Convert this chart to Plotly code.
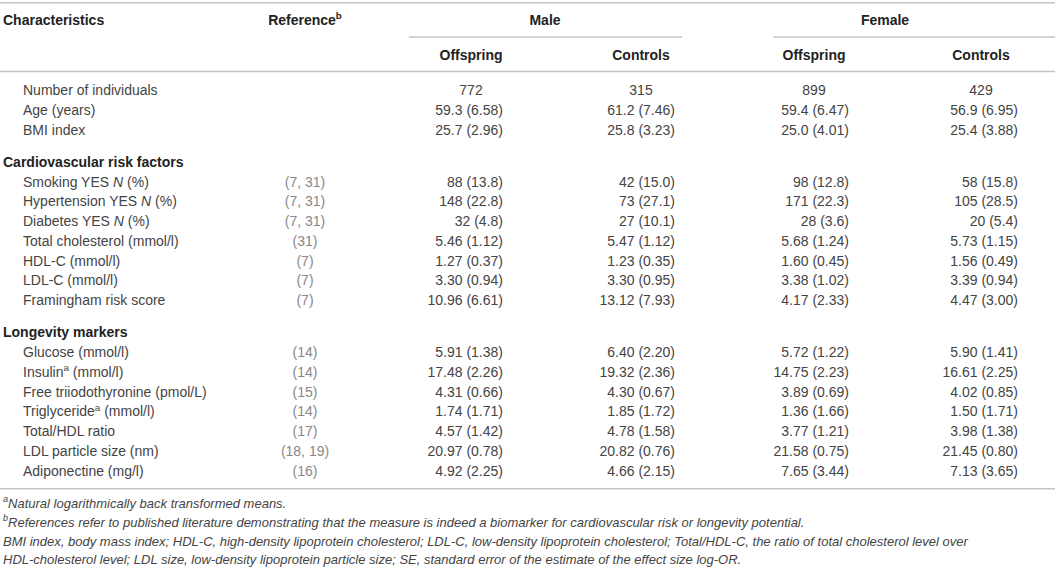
import plotly.graph_objects as go

# table data
row_labels = [
    "Number of individuals", "Age (years)", "BMI index",
    "Smoking YES <i>N</i> (%)", "Hypertension YES <i>N</i> (%)", "Diabetes YES <i>N</i> (%)",
    "Total cholesterol (mmol/l)", "HDL-C (mmol/l)", "LDL-C (mmol/l)", "Framingham risk score",
    "Glucose (mmol/l)", "Insulin<sup>a</sup> (mmol/l)", "Free triiodothyronine (pmol/L)",
    "Triglyceride<sup>a</sup> (mmol/l)", "Total/HDL ratio", "LDL particle size (nm)",
    "Adiponectine (mg/l)",
]
row_group = [0, 0, 0, 1, 1, 1, 1, 1, 1, 1, 2, 2, 2, 2, 2, 2, 2]
group_titles = ["", "Cardiovascular risk factors", "Longevity markers"]
references = [
    "", "", "", "(7, 31)", "(7, 31)", "(7, 31)", "(31)", "(7)", "(7)", "(7)",
    "(14)", "(14)", "(15)", "(14)", "(17)", "(18, 19)", "(16)",
]
male_offspring = [
    "772", "59.3 (6.58)", "25.7 (2.96)", "88 (13.8)", "148 (22.8)", "32 (4.8)",
    "5.46 (1.12)", "1.27 (0.37)", "3.30 (0.94)", "10.96 (6.61)", "5.91 (1.38)",
    "17.48 (2.26)", "4.31 (0.66)", "1.74 (1.71)", "4.57 (1.42)", "20.97 (0.78)", "4.92 (2.25)",
]
male_controls = [
    "315", "61.2 (7.46)", "25.8 (3.23)", "42 (15.0)", "73 (27.1)", "27 (10.1)",
    "5.47 (1.12)", "1.23 (0.35)", "3.30 (0.95)", "13.12 (7.93)", "6.40 (2.20)",
    "19.32 (2.36)", "4.30 (0.67)", "1.85 (1.72)", "4.78 (1.58)", "20.82 (0.76)", "4.66 (2.15)",
]
female_offspring = [
    "899", "59.4 (6.47)", "25.0 (4.01)", "98 (12.8)", "171 (22.3)", "28 (3.6)",
    "5.68 (1.24)", "1.60 (0.45)", "3.38 (1.02)", "4.17 (2.33)", "5.72 (1.22)",
    "14.75 (2.23)", "3.89 (0.69)", "1.36 (1.66)", "3.77 (1.21)", "21.58 (0.75)", "7.65 (3.44)",
]
female_controls = [
    "429", "56.9 (6.95)", "25.4 (3.88)", "58 (15.8)", "105 (28.5)", "20 (5.4)",
    "5.73 (1.15)", "1.56 (0.49)", "3.39 (0.94)", "4.47 (3.00)", "5.90 (1.41)",
    "16.61 (2.25)", "4.02 (0.85)", "1.50 (1.71)", "3.98 (1.38)", "21.45 (0.80)", "7.13 (3.65)",
]
header_top = ["Characteristics", "Reference<sup>b</sup>", "Male", "Female"]
header_sub = ["Offspring", "Controls", "Offspring", "Controls"]
footnotes = [
    "<sup>a</sup>Natural logarithmically back transformed means.",
    "<sup>b</sup>References refer to published literature demonstrating that the measure is indeed a biomarker for cardiovascular risk or longevity potential.",
    "BMI index, body mass index; HDL-C, high-density lipoprotein cholesterol; LDL-C, low-density lipoprotein cholesterol; Total/HDL-C, the ratio of total cholesterol level over",
    "HDL-cholesterol level; LDL size, low-density lipoprotein particle size; SE, standard error of the estimate of the effect size log-OR.",
]

# layout (axis units = pixels)
W, H = 1055, 570
FONT = "Liberation Sans"
TXT = "#444444"
HEADC = "#222222"
REFC = "#888888"
LINEC = "#c4c4c4"
x_head = 3
x_label = 23
x_ref = 305
col_center = [471, 641, 814, 981]
col_right = [503, 675, 849, 1018]
group_center = [545, 885]
pitch = 19.75
group_gap = 12.5
y_first = 91.7

# work out row positions
row_y = []
head_y = {}
y = y_first - pitch
prev = 0
for lab, g in zip(row_labels, row_group):
    if g != prev:
        y += pitch + group_gap
        head_y[g] = y
        prev = g
    y += pitch
    row_y.append(y)
y_bottom_line = row_y[-1] + 16.5
foot_y = [y_bottom_line + 16 + 18.8 * i for i in range(len(footnotes))]

fig = go.Figure()


def add_text(xs, ys, texts, pos, size=14, color=TXT, bold=False, italic=False):
    fig.add_trace(go.Scatter(
        x=xs, y=ys, text=texts, mode="text", textposition=pos,
        textfont=dict(family=FONT, size=size, color=color,
                      weight="bold" if bold else "normal",
                      style="italic" if italic else "normal"),
        hoverinfo="skip", showlegend=False,
    ))


# headers
add_text([x_head], [21], [header_top[0]], "middle right", bold=True, color=HEADC)
add_text([x_ref], [21], [header_top[1]], "middle center", bold=True, color=HEADC)
add_text(group_center, [21, 21], header_top[2:], "middle center", bold=True, color=HEADC)
add_text(col_center, [56] * 4, header_sub, "middle center", bold=True, color=HEADC)

# group headings
add_text([x_head] * len(head_y), list(head_y.values()),
         [group_titles[g] for g in head_y], "middle right", bold=True, color=HEADC)

# row labels and references
add_text([x_label] * len(row_labels), row_y, row_labels, "middle right")
ref_rows = [i for i, r in enumerate(references) if r]
add_text([x_ref] * len(ref_rows), [row_y[i] for i in ref_rows],
         [references[i] for i in ref_rows], "middle center", color=REFC)

# value columns: first row centered, rest right aligned
for i, col in enumerate([male_offspring, male_controls, female_offspring, female_controls]):
    add_text([col_center[i]], row_y[:1], col[:1], "middle center")
    add_text([col_right[i]] * (len(col) - 1), row_y[1:], col[1:], "middle left")

# footnotes
add_text([x_head] * len(footnotes), foot_y, footnotes, "middle right", size=13, italic=True)

# rules
for x0, x1, yy in [(0, W, 2.7), (409, 682, 37), (773, W, 37), (0, W, 71.5), (0, W, y_bottom_line)]:
    fig.add_shape(type="line", x0=x0, x1=x1, y0=yy, y1=yy, xref="x", yref="y",
                  line=dict(color=LINEC, width=1.6))

fig.update_xaxes(range=[0, W], visible=False, fixedrange=True)
fig.update_yaxes(range=[H, 0], visible=False, fixedrange=True)
fig.update_layout(
    width=W, height=H, margin=dict(l=0, r=0, t=0, b=0),
    plot_bgcolor="white", paper_bgcolor="white",
)

fig.write_html("out.html", config={"displayModeBar": False},
               post_script="document.body.style.margin = '0';")
